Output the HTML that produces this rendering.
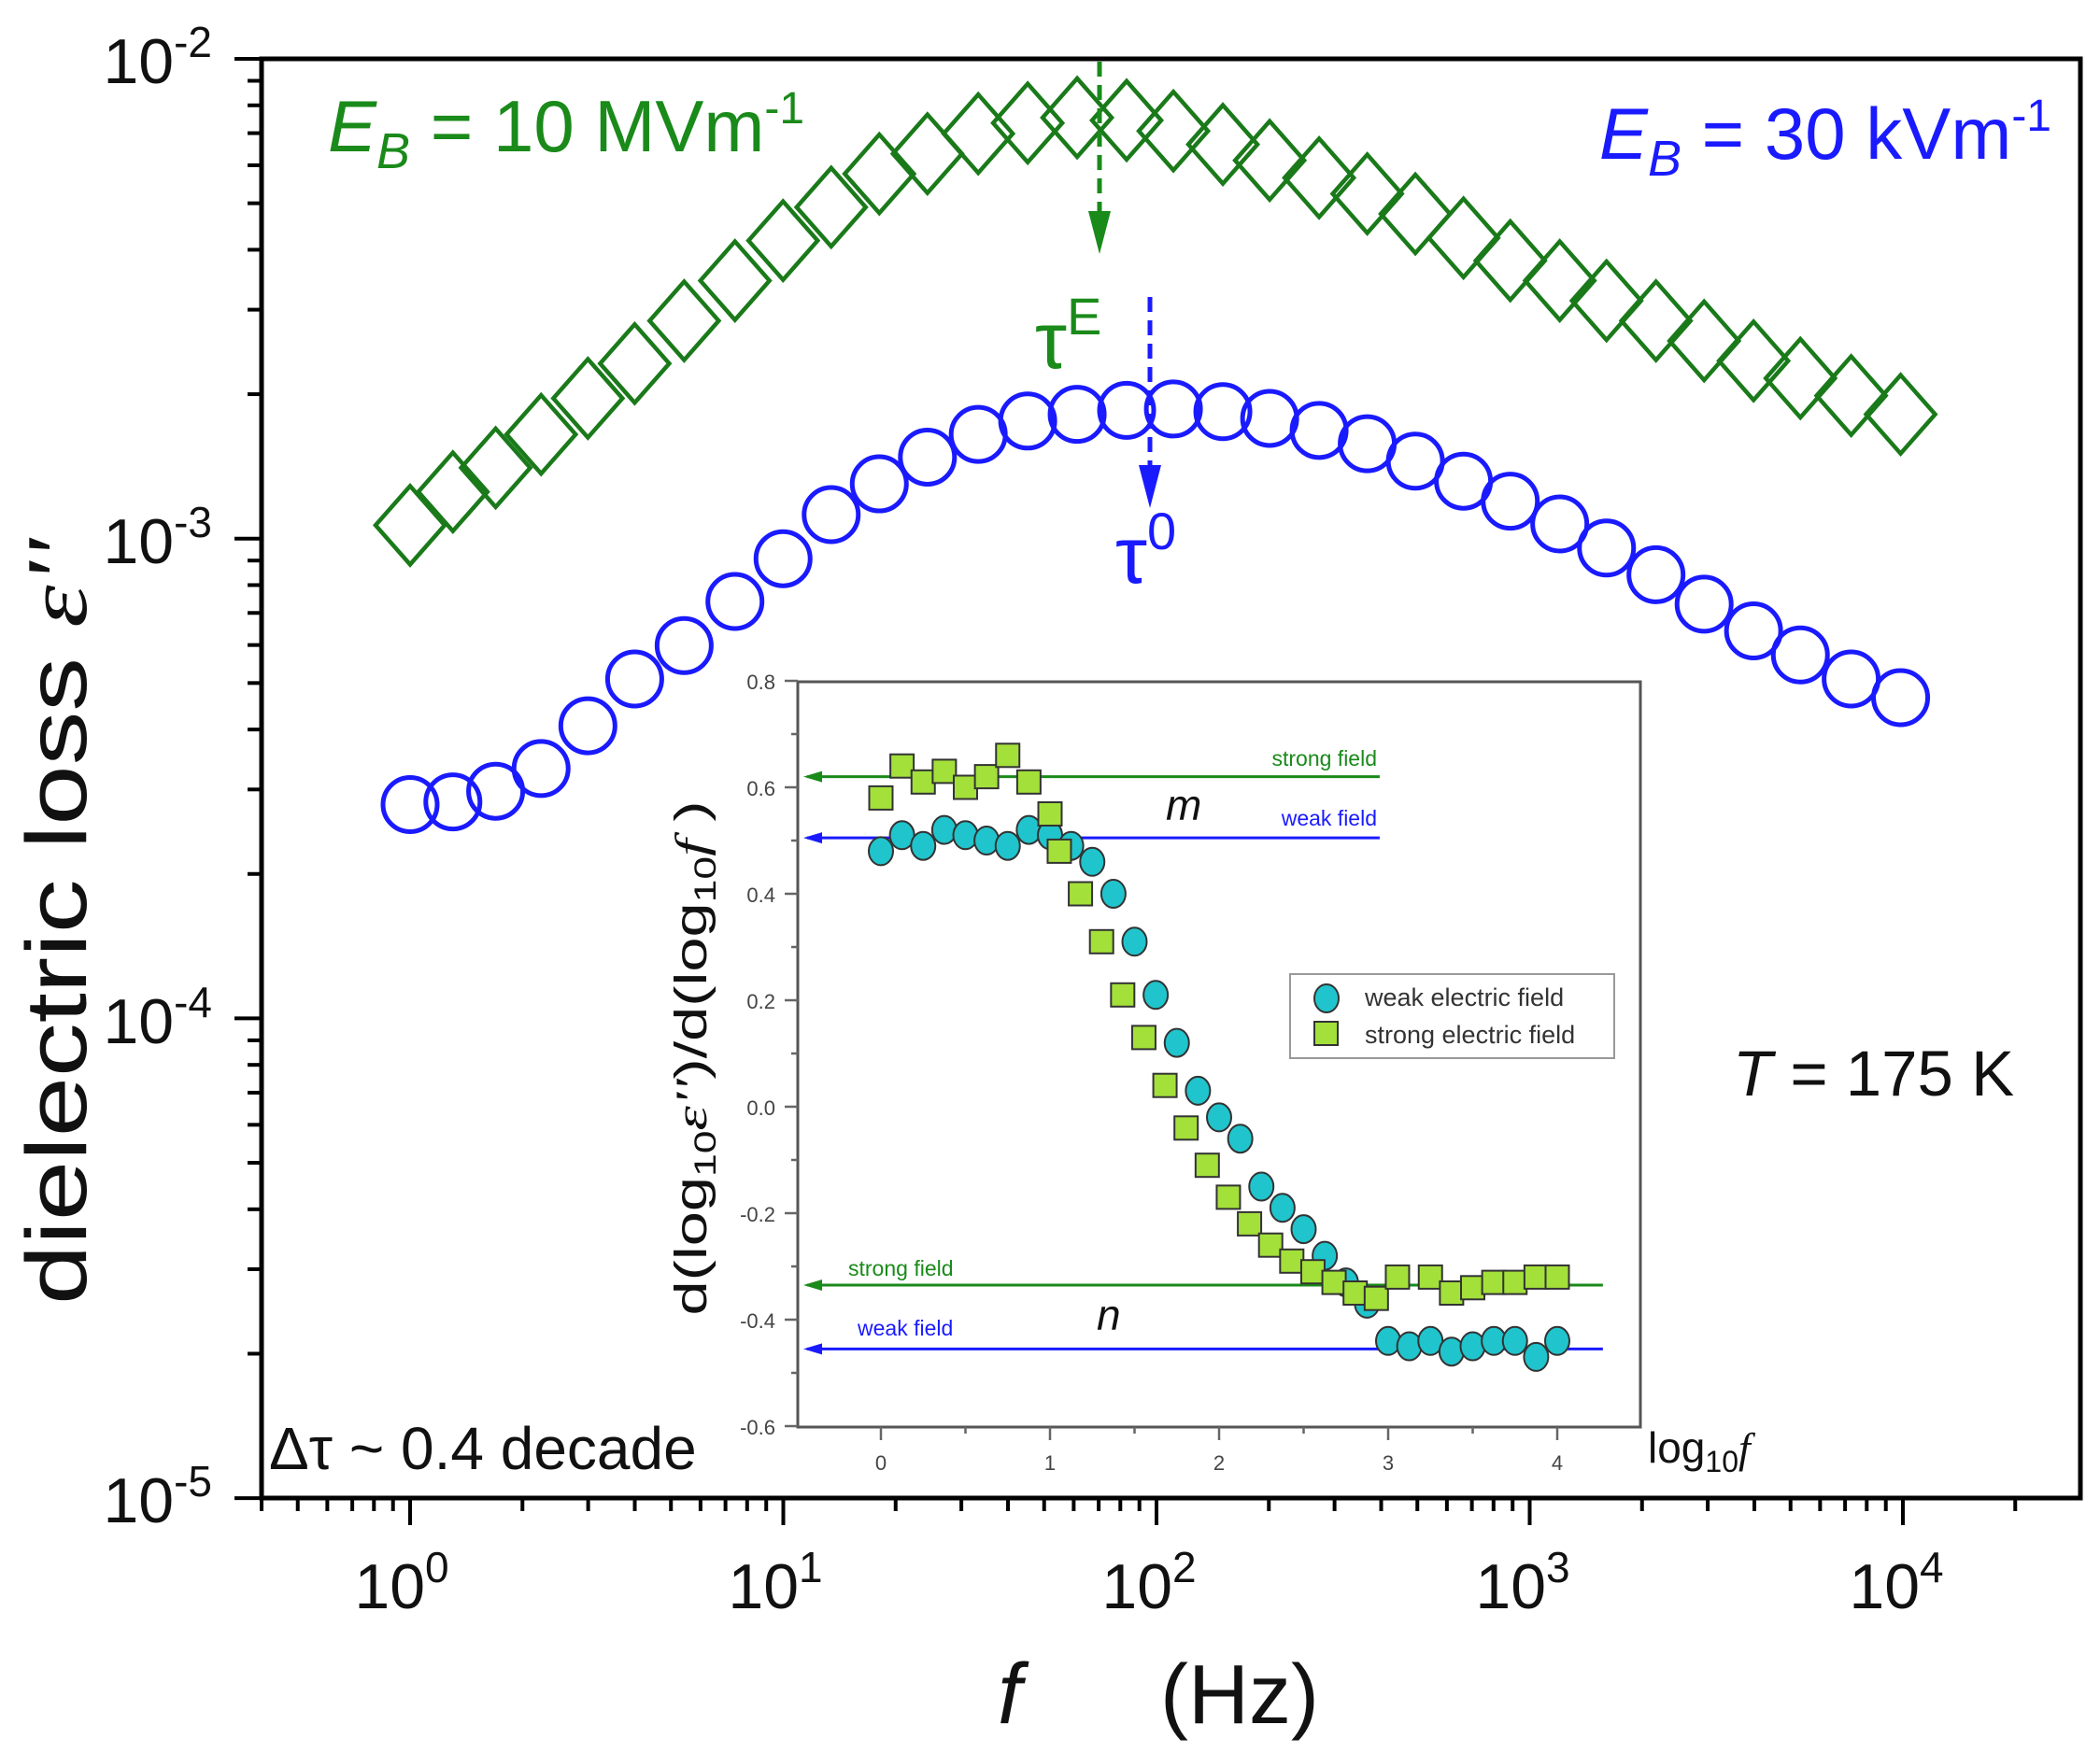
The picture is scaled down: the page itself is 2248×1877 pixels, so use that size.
<!DOCTYPE html>
<html><head><meta charset="utf-8"><style>
html,body{margin:0;padding:0;background:#fff}
svg{display:block}
text{font-family:"Liberation Sans",sans-serif}
</style></head><body>
<svg id="s" width="2248" height="1877" viewBox="0 0 2248 1877" xmlns="http://www.w3.org/2000/svg">
<g id="data"></g>
<rect x="280" y="63" width="1947" height="1541" fill="none" stroke="#000" stroke-width="5"/>
<g id="ticks" stroke="#000" stroke-width="4"></g>
<g font-size="68" fill="#111" text-anchor="end">
<text x="227" y="89">10<tspan dy="-28" font-size="46">-2</tspan></text>
<text x="227" y="603">10<tspan dy="-28" font-size="46">-3</tspan></text>
<text x="227" y="1117">10<tspan dy="-28" font-size="46">-4</tspan></text>
<text x="227" y="1630">10<tspan dy="-28" font-size="46">-5</tspan></text>
</g>
<g font-size="68" fill="#111" text-anchor="middle">
<text x="430" y="1722">10<tspan dy="-28" font-size="46">0</tspan></text>
<text x="830" y="1722">10<tspan dy="-28" font-size="46">1</tspan></text>
<text x="1230" y="1722">10<tspan dy="-28" font-size="46">2</tspan></text>
<text x="1630" y="1722">10<tspan dy="-28" font-size="46">3</tspan></text>
<text x="2030" y="1722">10<tspan dy="-28" font-size="46">4</tspan></text>
</g>
<text x="0" y="0" font-size="92" fill="#111" text-anchor="middle" textLength="820" lengthAdjust="spacingAndGlyphs" transform="translate(92,987) rotate(-90)">dielectric loss <tspan font-family="Liberation Serif" font-style="italic">ε''</tspan></text>
<text x="1068" y="1845" font-size="92" fill="#111" font-family="Liberation Serif" font-style="italic">f</text>
<text x="1242" y="1845" font-size="90" fill="#111">(Hz)</text>
<text x="351" y="162" font-size="78" fill="#1a8a1a"><tspan font-style="italic">E</tspan><tspan font-style="italic" font-size="54" dy="18">B</tspan><tspan dy="-18"> = 10 MVm</tspan><tspan dy="-30" font-size="48">-1</tspan></text>
<text x="2196" y="170" font-size="78" fill="#1a1aff" text-anchor="end"><tspan font-style="italic">E</tspan><tspan font-style="italic" font-size="54" dy="18">B</tspan><tspan dy="-18"> = 30 kVm</tspan><tspan dy="-30" font-size="48">-1</tspan></text>
<text x="1855" y="1173" font-size="69" fill="#111"><tspan font-style="italic">T</tspan> = 175 K</text>
<text x="288" y="1573" font-size="64" fill="#111">Δτ ~ 0.4 decade</text>
<text x="1108" y="394" font-size="86" fill="#1a8a1a" font-family="Liberation Serif">τ<tspan dy="-36" font-size="56" font-family="Liberation Sans">E</tspan></text>
<text x="1194" y="624" font-size="86" fill="#1a1aff" font-family="Liberation Serif">τ<tspan dy="-36" font-size="56" font-family="Liberation Sans">0</tspan></text>
<line x1="1177" y1="66" x2="1177" y2="232" stroke="#1a8a1a" stroke-width="5" stroke-dasharray="16,9"/>
<polygon points="1165,226 1189,226 1177,272" fill="#1a8a1a"/>
<line x1="1231" y1="318" x2="1231" y2="505" stroke="#1a1aff" stroke-width="5" stroke-dasharray="16,9"/>
<polygon points="1219,498 1243,498 1231,544" fill="#1a1aff"/>
<rect x="854" y="730" width="902" height="798" fill="#fff" stroke="#555" stroke-width="3"/>
<g id="iticks" stroke="#666" stroke-width="2.5"></g>
<g font-size="22" fill="#444" text-anchor="end">
<text x="830" y="738">0.8</text><text x="830" y="852">0.6</text><text x="830" y="966">0.4</text>
<text x="830" y="1080">0.2</text><text x="830" y="1194">0.0</text><text x="830" y="1308">-0.2</text>
<text x="830" y="1422">-0.4</text><text x="830" y="1536">-0.6</text>
</g>
<g font-size="22" fill="#444" text-anchor="middle">
<text x="943" y="1574">0</text><text x="1124" y="1574">1</text><text x="1305" y="1574">2</text>
<text x="1486" y="1574">3</text><text x="1667" y="1574">4</text>
</g>
<text x="0" y="0" font-size="48" fill="#111" text-anchor="middle" textLength="551" lengthAdjust="spacingAndGlyphs" transform="translate(756,1133) rotate(-90)">d(log<tspan font-size="32" dy="10">10</tspan><tspan dy="-10" font-family="Liberation Serif" font-style="italic">ε''</tspan>)/d(log<tspan font-size="32" dy="10">10</tspan><tspan dy="-10" font-family="Liberation Serif" font-style="italic">f</tspan> )</text>
<text x="1764" y="1566" font-size="46" fill="#111">log<tspan font-size="32" dy="10">10</tspan><tspan dy="-10" font-family="Liberation Serif" font-style="italic">f</tspan></text>
<g id="ilines"></g>
<g font-size="23" fill="#1a8a1a"><text x="1474" y="820" text-anchor="end">strong field</text><text x="908" y="1366">strong field</text></g>
<g font-size="23" fill="#1a1aff"><text x="1474" y="884" text-anchor="end">weak field</text><text x="918" y="1430">weak field</text></g>
<text x="1248" y="878" font-size="46" font-style="italic" fill="#111">m</text>
<text x="1174" y="1424" font-size="46" font-style="italic" fill="#111">n</text>
<g id="idata"></g>
<rect x="1381" y="1043" width="347" height="90" fill="#fff" stroke="#999" stroke-width="2"/>
<ellipse cx="1420" cy="1069" rx="13" ry="15" fill="#20c4cc" stroke="#333" stroke-width="2"/>
<rect x="1407" y="1094" width="25" height="25" fill="#a3e03a" stroke="#333" stroke-width="2"/>
<text x="1461" y="1077" font-size="27" fill="#333">weak electric field</text>
<text x="1461" y="1117" font-size="27" fill="#333">strong electric field</text>
</svg>
<script>
var NS="http://www.w3.org/2000/svg";
function el(p,n,a){var e=document.createElementNS(NS,n);for(var k in a)e.setAttribute(k,a[k]);p.appendChild(e);return e;}
var D=document.getElementById("data"),T=document.getElementById("ticks");
function X(lf){return 439+lf*399.5;} function Y(le){return 63+(-2-le)*513.7;}
for(var d=-1;d<=4;d++){for(var m=1;m<10;m++){var lf=d+Math.log10(m);var x=X(lf);if(x<280||x>2227)continue;el(T,"line",{x1:x,y1:1604,x2:x,y2:m==1?1633:1618});}}
for(var d=-5;d<-2;d++){for(var m=1;m<10;m++){var y=Y(d+Math.log10(m));el(T,"line",{x1:280,y1:y,x2:m==1?251:265,y2:y});}}
el(T,"line",{x1:251,y1:63,x2:280,y2:63});
var g=[[305,393],[337,368],[369,350],[403,325],[438,298],[473,272],[510,240],[548,210],[584,180],[620,155],[656,130],[692,115],[730,100],[767,92],[804,88],[841,90],[876,98],[913,108],[948,120],[985,133],[1021,145],[1057,160],[1093,178],[1128,195],[1165,210],[1200,225],[1237,240],[1273,255],[1310,270],[1345,283],[1383,296],[1420,310]];
var b=[[305,602],[337,600],[369,592],[403,575],[438,543],[473,508],[510,483],[548,450],[584,418],[620,385],[656,362],[692,342],[730,325],[767,315],[804,310],[841,307],[876,306],[913,308],[948,313],[985,322],[1021,332],[1057,345],[1093,360],[1128,375],[1165,392],[1200,410],[1237,430],[1273,452],[1310,472],[1345,490],[1383,508],[1420,522]];
function ax(v){return 439+(v-305)*1.431} function ay(v){return 63+(v-44)*1.431}
b.forEach(function(p){el(D,"circle",{cx:ax(p[0]),cy:ay(p[1]),r:29,fill:"none",stroke:"#1a1aff","stroke-width":5});});
g.forEach(function(p){var x=ax(p[0]),y=ay(p[1]);el(D,"polygon",{points:(x-37)+","+y+" "+x+","+(y-42)+" "+(x+37)+","+y+" "+x+","+(y+42),fill:"none",stroke:"#1a7a1a","stroke-width":4.5});});
function IX(v){return 943+v*181} function IY(v){return 1185-v*570}
var IT=document.getElementById("iticks");
for(var v=-0.6;v<=0.81;v+=0.1){var y=IY(v);var maj=Math.abs(Math.round(v*10))%2==0;el(IT,"line",{x1:854,y1:y,x2:maj?840:847,y2:y});}
for(var v=-0.5;v<=4.5;v+=0.5){var x=IX(v);if(x<854||x>1756)continue;var maj=Math.abs(v-Math.round(v))<0.01;el(IT,"line",{x1:x,y1:1528,x2:x,y2:maj?1542:1535});}
var L=document.getElementById("ilines");
function hl(y,x2,c){el(L,"line",{x1:864,y1:IY(y),x2:IX(x2),y2:IY(y),stroke:c,"stroke-width":3});el(L,"polygon",{points:"860,"+IY(y)+" 880,"+(IY(y)-6)+" 880,"+(IY(y)+6),fill:c});}
hl(0.62,2.95,"#1a8a1a");hl(0.505,2.95,"#1a1aff");hl(-0.335,4.27,"#1a8a1a");hl(-0.455,4.27,"#1a1aff");
var I=document.getElementById("idata");
var s=[0.58,0.64,0.61,0.63,0.60,0.62,0.66,0.61,0.55,0.48,0.40,0.31,0.21,0.13,0.04,-0.04,-0.11,-0.17,-0.22,-0.26,-0.29,-0.31,-0.33,-0.35,-0.36,-0.32,-0.32,-0.35,-0.34,-0.33,-0.33,-0.32,-0.32];
var w=[0.48,0.51,0.49,0.52,0.51,0.50,0.49,0.52,0.51,0.49,0.46,0.40,0.31,0.21,0.12,0.03,-0.02,-0.06,-0.15,-0.19,-0.23,-0.28,-0.33,-0.37,-0.44,-0.45,-0.44,-0.46,-0.45,-0.44,-0.44,-0.47,-0.44];
w.forEach(function(v,i){el(I,"ellipse",{cx:IX(i/8),cy:IY(v),rx:13,ry:15,fill:"#20c4cc",stroke:"#333","stroke-width":2});});
s.forEach(function(v,i){var lf=i/8-(i>8&&i<26?0.07:0);el(I,"rect",{x:IX(lf)-12.5,y:IY(v)-12.5,width:25,height:25,fill:"#a3e03a",stroke:"#333","stroke-width":2});});
</script>
</body></html>
